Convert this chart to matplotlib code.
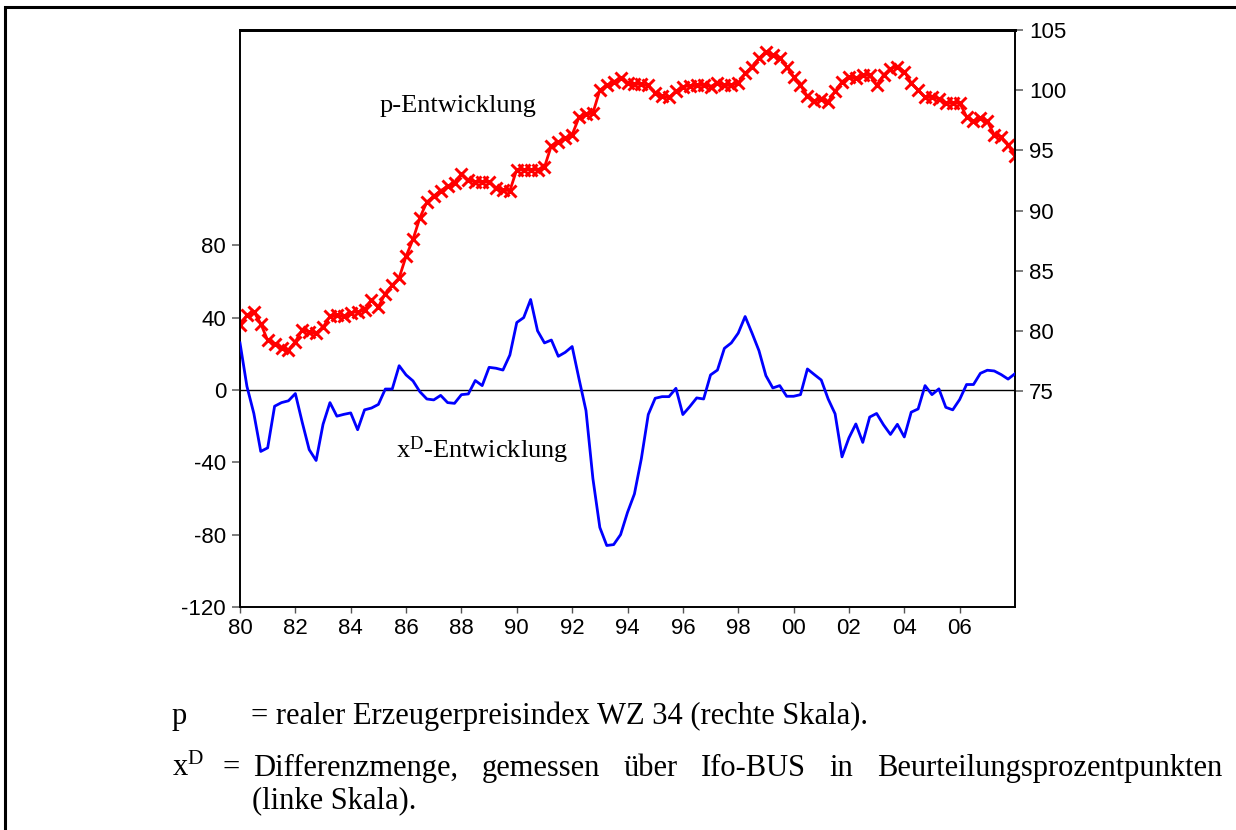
import numpy as np
import pandas as pd
import matplotlib
matplotlib.use("Agg")
import matplotlib.pyplot as plt
from matplotlib.patches import Rectangle

# ---------------- data (quarterly, 1980Q1 ...) ----------------
start_quarter = "1980Q1"
p_values = [80.5, 81.3, 81.6, 80.6, 79.2, 78.9, 78.6, 78.4, 79.1, 80.1,
            79.9, 79.8, 80.3, 81.2, 81.3, 81.2, 81.5, 81.6, 81.7, 82.6,
            82.0, 83.1, 83.8, 84.4, 86.2, 87.6, 89.4, 90.7, 91.2, 91.65,
            92.0, 92.3, 93.0, 92.5, 92.4, 92.35, 92.4, 91.85, 91.7, 91.65,
            93.4, 93.4, 93.4, 93.4, 93.6, 95.4, 95.7, 96.0, 96.3, 97.75,
            98.0, 98.1, 100.0, 100.4, 100.7, 101.0, 100.6, 100.5, 100.5, 100.4,
            99.75, 99.5, 99.4, 99.9, 100.3, 100.35, 100.4, 100.4, 100.3, 100.6,
            100.4, 100.4, 100.6, 101.4, 101.95, 102.65, 103.2, 102.9, 102.7, 101.95,
            101.1, 100.4, 99.5, 99.1, 99.25, 99.05, 99.9, 100.7, 101.1, 101.0,
            101.25, 101.25, 100.4, 101.25, 101.8, 101.95, 101.55, 100.6, 100.0, 99.4,
            99.4, 99.3, 98.95, 98.9, 98.95, 97.8, 97.4, 97.65, 97.4, 96.3,
            96.1, 95.45, 94.5]
xd_values = [26, 2, -13, -34, -32, -9, -7, -6, -2, -18,
             -33, -39, -19, -7, -14.5, -13.5, -12.7, -22, -11, -10,
             -8, 0.5, 0.5, 13.4, 8.3, 5, -1, -5, -5.5, -3,
             -7, -7.4, -2.6, -2.2, 5.2, 2.4, 12.5, 12, 11, 19.3,
             37.3, 40, 50, 32.7, 26, 27.6, 18.6, 20.8, 24, 6,
             -11.4, -49, -76, -86, -85.5, -80, -67.7, -57.5, -38, -13.6,
             -4.6, -3.7, -3.7, 0.9, -13.6, -9.2, -4.4, -5, 8.3, 11,
             23, 26, 31.4, 40.6, 31.4, 21.7, 7.9, 1.1, 2.4, -3.5,
             -3.5, -2.6, 11.6, 8.5, 5.5, -5, -13.2, -37, -26.5, -18.8,
             -29, -15, -13, -19.3, -24.6, -19, -26, -12.3, -10.5, 2.4,
             -2.6, 0.6, -9.6, -11, -5.3, 3, 3, 9.2, 10.9, 10.5,
             8.5, 6, 9]

x_tick_years = list(range(1980, 2007, 2))
x_tick_labels = [f"{y % 100:02d}" for y in x_tick_years]
left_ticks = [-120, -80, -40, 0, 40, 80]
right_ticks = [75, 80, 85, 90, 95, 100, 105]

label_p = "p-Entwicklung"
label_x = r"x$^{\mathrm{D}}$-Entwicklung"
note1_a = "p"
note1_b = "= realer Erzeugerpreisindex WZ 34 (rechte Skala)."
note2_sym = r"x$^{\mathrm{D}}$"
note2_words = ["Differenzmenge,", "gemessen", "über", "Ifo-BUS", "in",
               "Beurteilungsprozentpunkten"]
note3 = "(linke Skala)."

# ---------------- figure ----------------
plt.rcParams["mathtext.fontset"] = "custom"
plt.rcParams["mathtext.rm"] = "Liberation Serif"
plt.rcParams["mathtext.it"] = "Liberation Serif:italic"

W, H = 1236, 830
fig = plt.figure(figsize=(W / 100, H / 100), dpi=100)
fig.patch.set_facecolor("white")


def fx(px):
    return px / W


def fy(py):
    return 1 - py / H


# outer frame (runs off the right and bottom edges)
fig.patches.append(Rectangle((fx(5), fy(900)), 2.0, fy(7) - fy(900),
                             transform=fig.transFigure, fill=False,
                             edgecolor="black", linewidth=2.2, clip_on=False))

ax = fig.add_axes([fx(240), fy(607), fx(1015) - fx(240), fy(30) - fy(607)])
ax2 = ax.twinx()

periods = pd.period_range(start_quarter, periods=len(p_values), freq="Q")
xpos = periods.year + (periods.quarter - 1) / 4.0

ax.plot(xpos, xd_values, color="#0000ff", linewidth=2.0, zorder=3)
ax.axhline(0, color="black", linewidth=1.0, zorder=2)
ax2.plot(xpos, p_values, color="#ff0000", linewidth=2.0, marker="x",
         markersize=8.5, markeredgewidth=2.1, zorder=4)

ax.set_xlim(1980, 2008)
ax.set_ylim(-120, 199)
ax2.set_ylim(57.05, 105)

ax.set_xticks(x_tick_years)
ax.set_xticklabels(x_tick_labels)
ax.set_yticks(left_ticks)
ax.set_yticklabels([str(v) for v in left_ticks])
ax2.set_yticks(right_ticks)
ax2.set_yticklabels([str(v) for v in right_ticks])

for lab in ax.get_xticklabels() + ax.get_yticklabels() + ax2.get_yticklabels():
    lab.set_fontfamily("Liberation Sans")
    lab.set_fontsize(16)

ax.tick_params(axis="x", direction="out", length=4, width=1, pad=4,
               color="#555555")
ax.tick_params(axis="y", direction="out", length=6, width=1.2, pad=4,
               color="#666666")
ax2.tick_params(axis="y", direction="out", length=6, width=1.2, pad=4,
                color="#666666")

for a in (ax, ax2):
    for s in a.spines.values():
        s.set_color("black")
        s.set_linewidth(1.2)
ax.spines["top"].set_linewidth(2.0)
ax2.spines["top"].set_linewidth(2.0)

ax.set_zorder(ax2.get_zorder() + 1)
ax.patch.set_visible(False)

serif = "Liberation Serif"
fig.text(fx(458), fy(106), label_p, family=serif, fontsize=19,
         ha="center", va="center")
fig.text(fx(482), fy(450), label_x, family=serif, fontsize=19,
         ha="center", va="center")

# notes below the chart
NFS = 22
fig.text(fx(172), fy(716), note1_a, family=serif, fontsize=NFS,
         ha="left", va="center")
fig.text(fx(868), fy(716), note1_b, family=serif, fontsize=NFS,
         ha="right", va="center")
fig.text(fx(172), fy(768), note2_sym, family=serif, fontsize=NFS,
         ha="left", va="center")
fig.text(fx(222), fy(768), "=", family=serif, fontsize=NFS,
         ha="left", va="center")

renderer = fig.canvas.get_renderer()
word_objs = []
for w in note2_words:
    t = fig.text(0, fy(768), w, family=serif, fontsize=NFS,
                 ha="left", va="center")
    word_objs.append(t)
widths = [t.get_window_extent(renderer).width for t in word_objs]
x_left, x_right = 253, 1222
gap = (x_right - x_left - sum(widths)) / (len(widths) - 1)
xcur = x_left
for t, wdt in zip(word_objs, widths):
    t.set_x(fx(xcur))
    xcur += wdt + gap

fig.text(fx(252), fy(801), note3, family=serif, fontsize=NFS,
         ha="left", va="center")

fig.savefig("out.png", dpi=100, facecolor="white")
